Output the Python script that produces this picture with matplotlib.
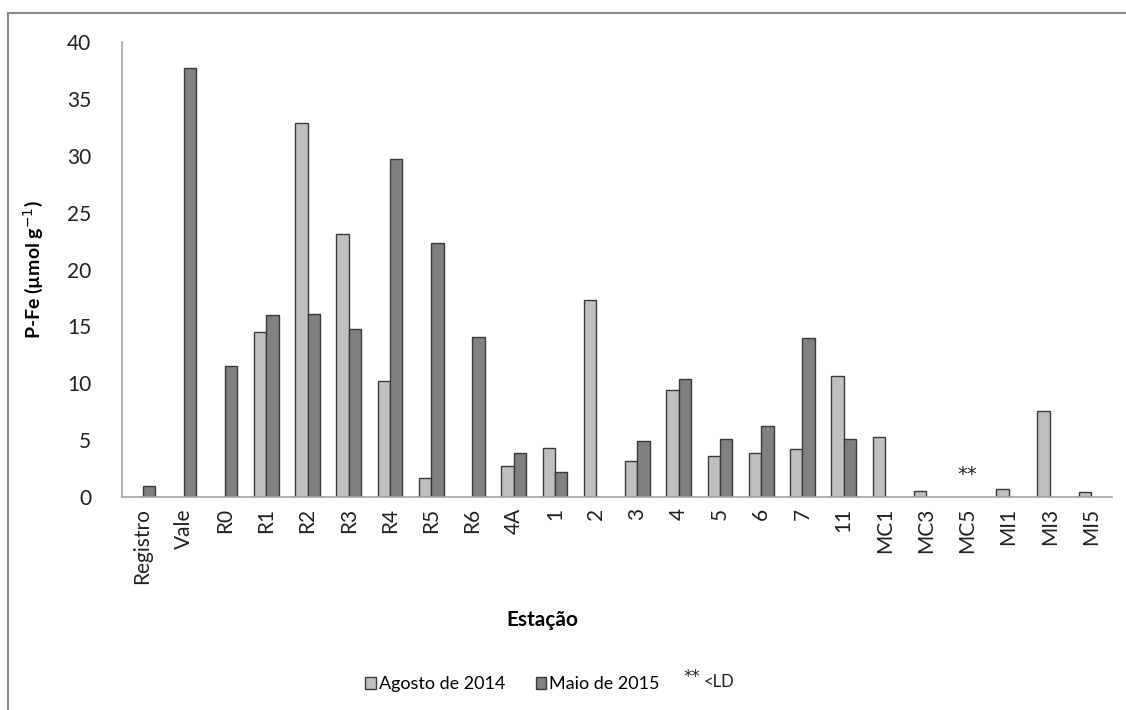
import numpy as np
import matplotlib
matplotlib.use('Agg')
import matplotlib.pyplot as plt
from matplotlib.patches import Patch
from matplotlib.lines import Line2D

plt.rcParams['font.family'] = ['Lato', 'DejaVu Sans']

estacoes = ['Registro', 'Vale', 'R0', 'R1', 'R2', 'R3', 'R4', 'R5', 'R6', '4A',
            '1', '2', '3', '4', '5', '6', '7', '11', 'MC1', 'MC3', 'MC5',
            'MI1', 'MI3', 'MI5']
agosto_2014 = [0, 0, 0, 14.5, 32.9, 23.1, 10.2, 1.7, 0, 2.7,
               4.3, 17.3, 3.2, 9.4, 3.6, 3.9, 4.2, 10.6, 5.3, 0.5, 0,
               0.7, 7.6, 0.4]
maio_2015 = [1.0, 37.7, 11.5, 16.0, 16.1, 14.8, 29.7, 22.3, 14.1, 3.9,
             2.2, 0, 4.9, 10.4, 5.1, 6.2, 14.0, 5.1, 0, 0, 0,
             0, 0, 0]
abaixo_ld = ['MC5']

fs = 15
fig = plt.figure(figsize=(11.26, 7.10), dpi=100)
ax = fig.add_axes([0.1083, 0.30, 0.879, 0.6408])

x = np.arange(len(estacoes))
w = 0.30
ago = np.array(agosto_2014, dtype=float)
mai = np.array(maio_2015, dtype=float)
ago_h = np.where(ago > 0, ago, np.nan)
mai_h = np.where(mai > 0, mai, np.nan)
ax.bar(x - w / 2, ago_h, w, color='#c0c0c0', edgecolor='#3a3a3a', linewidth=1.0)
ax.bar(x + w / 2, mai_h, w, color='#808080', edgecolor='#3a3a3a', linewidth=1.0)

for nome in abaixo_ld:
    i = estacoes.index(nome)
    ax.text(i, 1.1, '**', ha='center', va='bottom', fontsize=14, color='#222222',
            family='DejaVu Sans')

ax.set_xlim(-0.5, len(estacoes) - 0.5)
ax.set_ylim(0, 40)
ax.set_yticks(range(0, 41, 5))
ax.set_xticks(x)
ax.set_xticklabels(estacoes, rotation=90, fontsize=fs, color='#222222')
ax.tick_params(axis='y', labelsize=fs, labelcolor='#222222', length=0, pad=22)
ax.tick_params(axis='x', length=0, pad=8)

for s in ['top', 'right']:
    ax.spines[s].set_visible(False)
for s in ['left', 'bottom']:
    ax.spines[s].set_color('#a6a6a6')
    ax.spines[s].set_linewidth(1.2)

ax.set_ylabel('P-Fe (µmol g$^{-1}$)', fontsize=fs - 1, fontweight='bold', labelpad=16)
fig.text(0.482, 0.127, 'Estação', ha='center', va='center', fontsize=fs,
         fontweight='bold')

handles = [Patch(facecolor='#c0c0c0', edgecolor='#3a3a3a', label='Agosto de 2014'),
           Patch(facecolor='#808080', edgecolor='#3a3a3a', label='Maio de 2015')]
fig.legend(handles=handles, loc='center', bbox_to_anchor=(0.455, 0.036), ncol=2,
           frameon=False, fontsize=13, handlelength=0.6, handleheight=0.6,
           handletextpad=0.15, columnspacing=1.7)
fig.text(683 / 1126, 0.046, '**', ha='left', va='center', fontsize=12,
         color='#222222', family='DejaVu Sans')
fig.text(704 / 1126, 0.040, '<LD', ha='left', va='center', fontsize=12,
         color='#222222')

# moldura
fig.add_artist(Line2D([8 / 1126, 8 / 1126], [0, 1 - 13 / 710], color='#8c8c8c', lw=1.5))
fig.add_artist(Line2D([8 / 1126, 1], [1 - 13 / 710, 1 - 13 / 710], color='#8c8c8c', lw=1.5))

plt.savefig('out.png', dpi=100)
